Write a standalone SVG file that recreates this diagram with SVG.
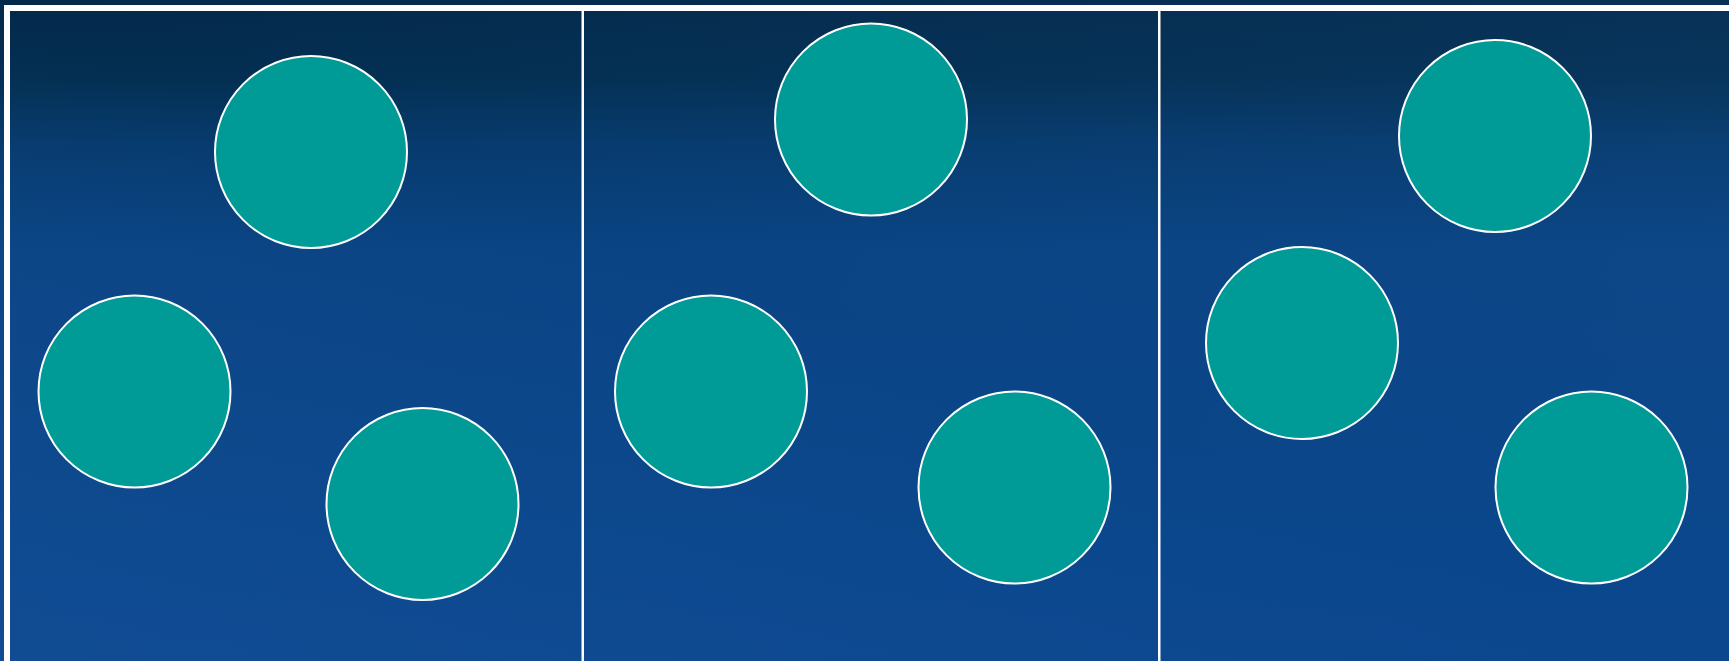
<svg xmlns="http://www.w3.org/2000/svg" width="1729" height="661" viewBox="0 0 1729 661">
<defs>
<linearGradient id="bg" x1="0" y1="0" x2="0" y2="1">
<stop offset="0" stop-color="#03294a"/>
<stop offset="0.12" stop-color="#032f52"/>
<stop offset="0.22" stop-color="#073b6e"/>
<stop offset="0.38" stop-color="#0a4484"/>
<stop offset="1" stop-color="#0b478e"/>
</linearGradient>
<linearGradient id="sheen" x1="0" y1="1" x2="1" y2="0">
<stop offset="0" stop-color="#2f6ab5" stop-opacity="0.15"/>
<stop offset="0.5" stop-color="#2f6ab5" stop-opacity="0"/>
<stop offset="1" stop-color="#2f6ab5" stop-opacity="0.12"/>
</linearGradient>
<style>
.node circle{fill:#009a97;stroke:#ffffff;stroke-width:2}
</style>
</defs>
<rect x="0" y="0" width="1729" height="661" fill="url(#bg)"/>
<rect x="0" y="0" width="1729" height="661" fill="url(#sheen)"/>
<g id="frame">
<rect x="4" y="5" width="1725" height="6" fill="#ffffff"/>
<rect x="4" y="5" width="6" height="656" fill="#ffffff"/>
<rect x="581.5" y="11" width="2.5" height="650" fill="#ffffff"/>
<rect x="1158" y="11" width="2.5" height="650" fill="#ffffff"/>
</g>
<g id="node-p1-a" class="node"><circle cx="311" cy="152" r="96"/></g>
<g id="node-p1-b" class="node"><circle cx="134.5" cy="391.5" r="96"/></g>
<g id="node-p1-c" class="node"><circle cx="422.5" cy="504" r="96"/></g>
<g id="node-p2-a" class="node"><circle cx="871" cy="119.5" r="96"/></g>
<g id="node-p2-b" class="node"><circle cx="711" cy="391.5" r="96"/></g>
<g id="node-p2-c" class="node"><circle cx="1014.5" cy="487.5" r="96"/></g>
<g id="node-p3-a" class="node"><circle cx="1495" cy="136" r="96"/></g>
<g id="node-p3-b" class="node"><circle cx="1302" cy="343" r="96"/></g>
<g id="node-p3-c" class="node"><circle cx="1591.5" cy="487.5" r="96"/></g>
<g id="connectors"></g>
</svg>
